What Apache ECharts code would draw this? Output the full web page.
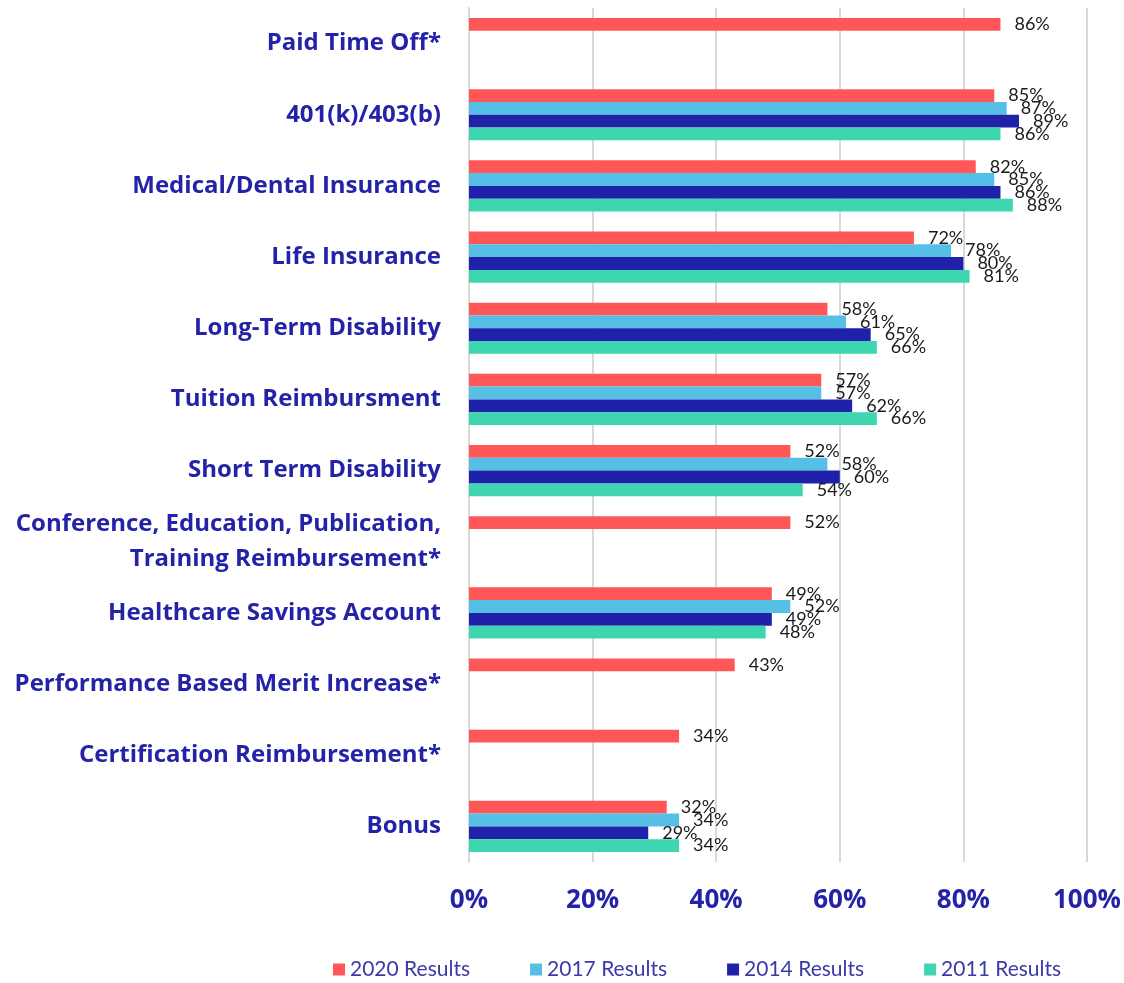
<!DOCTYPE html>
<html><head><meta charset="utf-8">
<script src="https://cdn.jsdelivr.net/npm/echarts@6/dist/echarts.min.js"></script>
<style>html,body{margin:0;padding:0;background:#fff}#c{width:1124px;height:983px}</style>
</head><body><div id="c"></div>
<script>
const categories = ["Paid Time Off*","401(k)/403(b)","Medical/Dental Insurance","Life Insurance","Long-Term Disability","Tuition Reimbursment","Short Term Disability","Conference, Education, Publication,\nTraining Reimbursement*","Healthcare Savings Account","Performance Based Merit Increase*","Certification Reimbursement*","Bonus"];
const seriesNames = ["2020 Results","2017 Results","2014 Results","2011 Results"];
const v2020 = [86,85,82,72,58,57,52,52,49,43,34,32];
const v2017 = [null,87,85,78,61,57,58,null,52,null,null,34];
const v2014 = [null,89,86,80,65,62,60,null,49,null,null,29];
const v2011 = [null,86,88,81,66,66,54,null,48,null,null,34];
const xTicks = [0,20,40,60,80,100];
const colors = ["#FF5757","#55BFE6","#1F21A9","#3DD6B0"];

const chart = echarts.init(document.getElementById('c'));
const mk = (name, data, color) => ({
  name, type:'bar', data, barGap:'0%', barCategoryGap:'28%',
  itemStyle:{color},
  label:{show:true, position:'right', distance:14, formatter:p=>p.value==null?'':p.value+'%', color:'#1a1a1a', fontFamily:'Lato', fontSize:18}
});
chart.setOption({
  animation:false,
  grid:{left:469, right:37, top:8, bottom:121},
  legend:{bottom:-2, left:328, itemGap:60, itemWidth:12, itemHeight:12, icon:'rect',
    textStyle:{color:'#3B3BA8', fontFamily:'Lato', fontSize:21}, data:seriesNames},
  xAxis:{type:'value', min:0, max:100, interval:20,
    axisLabel:{formatter:v=>v+'%', color:'#2423A8', fontWeight:'bold', fontFamily:'Open Sans', fontSize:26, margin:26},
    splitLine:{lineStyle:{color:'#D9D9D9', width:2}}, axisLine:{show:false}, axisTick:{show:false}},
  yAxis:{type:'category', inverse:true, data:categories,
    axisLine:{show:true, lineStyle:{color:'#D9D9D9', width:2}}, axisTick:{show:false},
    axisLabel:{color:'#2423A8', fontWeight:'bold', fontFamily:'Open Sans', fontSize:24, margin:28, align:'right', lineHeight:35}},
  series:[mk(seriesNames[0],v2020,colors[0]),mk(seriesNames[1],v2017,colors[1]),mk(seriesNames[2],v2014,colors[2]),mk(seriesNames[3],v2011,colors[3])]
});
</script></body></html>
